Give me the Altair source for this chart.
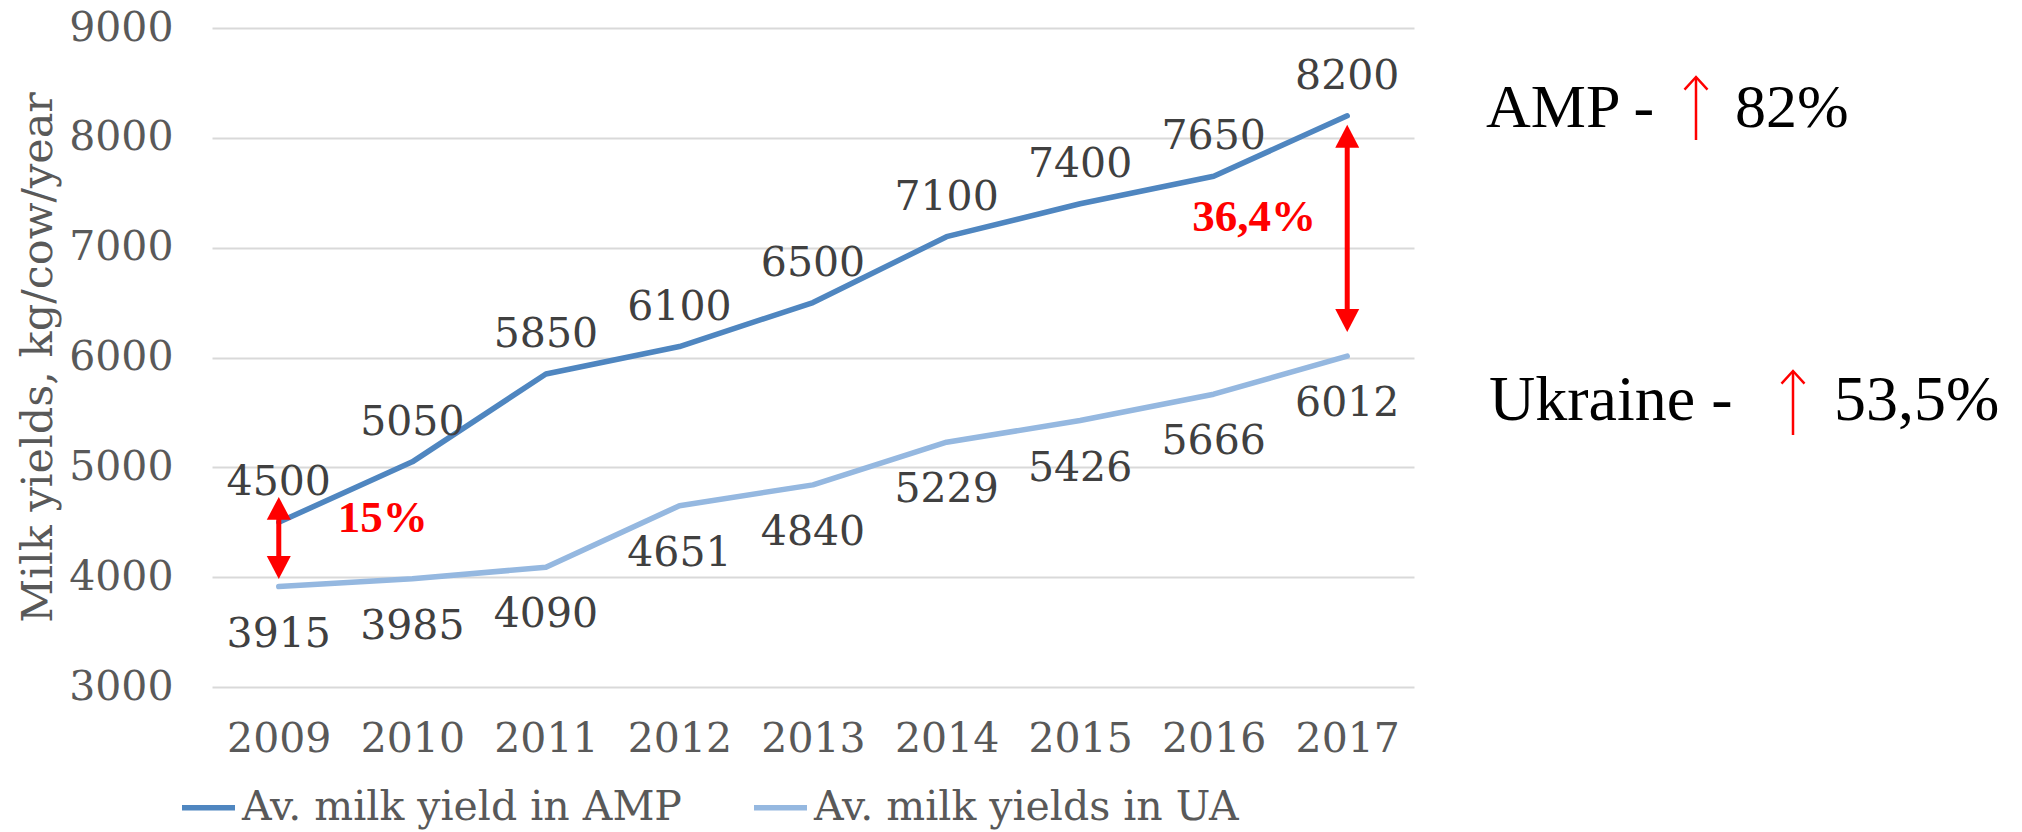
import altair as alt
import pandas as pd

# ---------------- data ----------------
years = ["2009", "2010", "2011", "2012", "2013", "2014", "2015", "2016", "2017"]
amp_yield = [4500, 5050, 5850, 6100, 6500, 7100, 7400, 7650, 8200]
ua_yield = [3915, 3985, 4090, 4651, 4840, 5229, 5426, 5666, 6012]
series_names = ["Av. milk yield in AMP", "Av. milk yields in UA"]
series_colors = ["#4F86C0", "#95B8E0"]
y_ticks = [3000, 4000, 5000, 6000, 7000, 8000, 9000]

# gap arrows between the two series (value ranges of the red double arrows)
gap_years = ["2009", "2017"]
gap_top = [4730, 8118]
gap_bottom = [3984, 6233]
gap_labels = ["15%", "36,4%"]
gap_label_value = [4540, 7280]

# growth notes on the right
growth_regions = ["AMP -", "Ukraine -"]
growth_values = ["82%", "53,5%"]

# ---------------- tables ----------------
lines_df = pd.DataFrame({
    "year": years * 2,
    "value": amp_yield + ua_yield,
    "series": [series_names[0]] * len(years) + [series_names[1]] * len(years),
})
amp_df = pd.DataFrame({"year": years, "value": amp_yield})
ua_df = pd.DataFrame({"year": years, "value": ua_yield})
shaft_off = 110
gap_df = pd.DataFrame({
    "year": gap_years,
    "top": gap_top,
    "bottom": gap_bottom,
    "shaft_top": [t - shaft_off for t in gap_top],
    "shaft_bottom": [b + shaft_off for b in gap_bottom],
})
gap_lbl_df = pd.DataFrame({"year": gap_years, "value": gap_label_value, "label": gap_labels})
notes_df = pd.DataFrame({"region": growth_regions, "pct": growth_values})

SERIF = "DejaVu Serif"
TIMES = "Liberation Serif"

x_enc = alt.X("year:O", scale=alt.Scale(type="point", padding=0.5),
              axis=alt.Axis(title=None, labelAngle=0, grid=False, domain=False, ticks=False,
                            labelPadding=32, labelFont=SERIF, labelFontSize=41,
                            labelColor="#595959"))
y_scale = alt.Scale(domain=[3000, 9000], nice=False, zero=False)
y_enc = alt.Y("value:Q", scale=y_scale,
              axis=alt.Axis(values=y_ticks, format="d", title="Milk yields, kg/cow/year", grid=True,
                            gridColor="#D9D9D9", gridWidth=2, domain=False, ticks=False,
                            labelPadding=39, labelFont=SERIF, labelFontSize=41,
                            labelColor="#595959", titleFont=SERIF, titleFontSize=43,
                            titleFontWeight="normal", titleColor="#595959",
                            titleX=-174, titleY=329, titleAngle=270,
                            titleAlign="center", titleBaseline="middle"))

lines = alt.Chart(lines_df).mark_line(strokeWidth=5.5, strokeCap="round", strokeJoin="round").encode(
    x=x_enc,
    y=y_enc,
    color=alt.Color("series:N", scale=alt.Scale(domain=series_names, range=series_colors),
                    legend=alt.Legend(orient="none", legendX=-33, legendY=750,
                                      direction="horizontal", title=None,
                                      symbolType="stroke", symbolStrokeWidth=5.5, symbolSize=2809,
                                      labelFont=SERIF, labelFontSize=41, labelColor="#595959",
                                      labelLimit=0, labelOffset=4, columnPadding=61, padding=0)),
)

amp_labels = alt.Chart(amp_df).mark_text(font=SERIF, fontSize=41, color="#404040",
                                         baseline="alphabetic", dy=-27).encode(
    x="year:O", y=alt.Y("value:Q", scale=y_scale), text="value:Q")
ua_labels = alt.Chart(ua_df).mark_text(font=SERIF, fontSize=41, color="#404040",
                                       baseline="alphabetic", dy=60).encode(
    x="year:O", y=alt.Y("value:Q", scale=y_scale), text="value:Q")

shafts = alt.Chart(gap_df).mark_rule(color="#FF0000", strokeWidth=5).encode(
    x="year:O", y=alt.Y("shaft_top:Q", scale=y_scale), y2="shaft_bottom:Q")
heads_up = alt.Chart(gap_df).mark_point(shape="M0,0L1,1.9L-1,1.9Z", filled=True, size=576,
                                        color="#FF0000", opacity=1).encode(
    x="year:O", y=alt.Y("top:Q", scale=y_scale))
heads_down = alt.Chart(gap_df).mark_point(shape="M0,0L1,-1.9L-1,-1.9Z", filled=True, size=576,
                                          color="#FF0000", opacity=1).encode(
    x="year:O", y=alt.Y("bottom:Q", scale=y_scale))

gap_text_15 = alt.Chart(gap_lbl_df).transform_filter(alt.datum.year == gap_years[0]).mark_text(
    font=TIMES, fontSize=45, fontWeight="bold", color="#FF0000", baseline="middle", dx=104).encode(
    x="year:O", y=alt.Y("value:Q", scale=y_scale), text="label:N")
gap_text_36 = alt.Chart(gap_lbl_df).transform_filter(alt.datum.year == gap_years[1]).mark_text(
    font=TIMES, fontSize=45, fontWeight="bold", color="#FF0000", baseline="middle", dx=-93).encode(
    x="year:O", y=alt.Y("value:Q", scale=y_scale), text="label:N")


def note_text(i, field, x, y, size=62):
    return alt.Chart(notes_df.iloc[[i]]).mark_text(
        font=TIMES, fontSize=size, color="#000000", align="left", baseline="alphabetic").encode(
        x=alt.value(x), y=alt.value(y), text=f"{field}:N")


def note_arrow(i, x, y_tip, y_end):
    shaft = alt.Chart(notes_df.iloc[[i]]).mark_rule(color="#FF0000", strokeWidth=2.5).encode(
        x=alt.value(x), y=alt.value(y_tip + 1), y2=alt.value(y_end))
    head = alt.Chart(notes_df.iloc[[i]]).mark_point(
        shape="M-1,1.1L0,0L1,1.1", filled=False, size=529, color="#FF0000",
        strokeWidth=2.5, opacity=1).encode(x=alt.value(x), y=alt.value(y_tip))
    return [shaft, head]


notes = [
    note_text(0, "region", 1274, 99),
    *note_arrow(0, 1484, 49, 112),
    note_text(0, "pct", 1523, 99),
    note_text(1, "region", 1277, 392, 64),
    *note_arrow(1, 1581, 343, 407),
    note_text(1, "pct", 1622, 392, 64),
]

chart = alt.layer(lines, amp_labels, ua_labels, shafts, heads_up, heads_down,
                  gap_text_15, gap_text_36, *notes).properties(
    width=1202, height=659,
    autosize=alt.AutoSizeParams(type="none"),
    padding={"left": 204, "top": 20, "right": 594, "bottom": 145},
).configure_view(stroke=None)

chart.save("out.html", embed_options={"renderer": "svg", "actions": False})
